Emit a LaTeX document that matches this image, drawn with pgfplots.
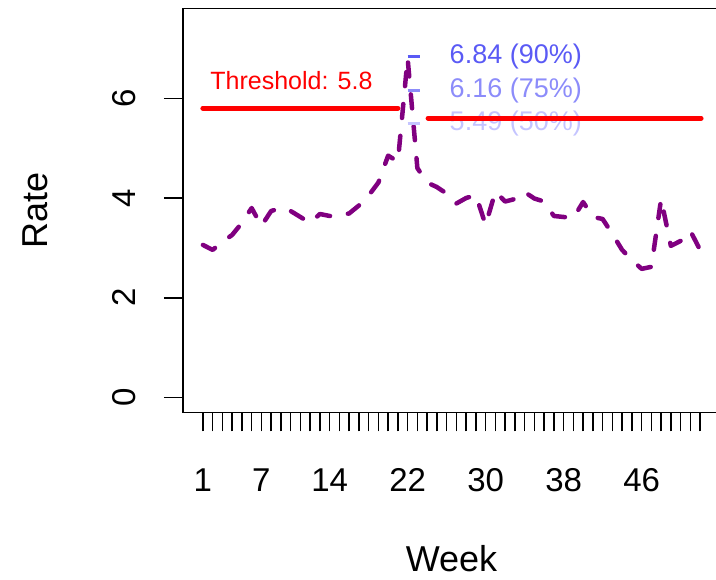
\documentclass[border=0pt]{standalone}
\usepackage{pgfplots}
\pgfplotsset{compat=1.18}
\usepackage{pgfplotstable}
\usepackage{fontspec}
\setmainfont{Liberation Sans}
\definecolor{rpurple}{HTML}{800080}
\definecolor{q90}{HTML}{5A5AF5}
\definecolor{q75}{HTML}{8C8CFA}
\definecolor{q50}{HTML}{C4C4FF}
\pgfplotstableread{
week rate
1 3.06
2 2.96
3 3.12
4 3.26
5 3.50
6 3.80
7 3.44
8 3.74
9 3.80
10 3.74
11 3.62
12 3.50
13 3.68
14 3.64
15 3.66
16 3.69
17 3.85
18 4.05
19 4.31
20 4.85
21 4.73
22 6.80
23 4.60
24 4.31
25 4.22
26 4.09
27 3.89
28 4.00
29 4.06
30 3.46
31 4.13
32 3.93
33 3.98
34 4.12
35 3.99
36 3.93
37 3.64
38 3.62
39 3.60
40 3.92
41 3.62
42 3.58
43 3.28
44 2.96
45 2.76
46 2.58
47 2.62
48 3.98
49 3.04
50 3.14
51 3.34
52 2.96
}\ratedata
\begin{document}
\begin{tikzpicture}
\useasboundingbox (-183pt,-167.5pt) rectangle (533pt,412.5pt);
\clip (-183pt,-167.5pt) rectangle (533pt,412.5pt);
\begin{axis}[
  at={(0pt,0pt)}, anchor=south west,
  scale only axis, width=537pt, height=404pt,
  xmin=-1.04, xmax=54.04, ymin=-0.3, ymax=7.8,
  axis line style={line width=1.5pt, black},
  tick pos=left, tick align=outside,
  major tick length=19pt,
  every tick/.style={line width=1.5pt, black},
  xtick={1,...,52},
  xticklabels={1,,,,,,7,,,,,,,14,,,,,,,,22,,,,,,,,30,,,,,,,,38,,,,,,,,46,,,,,,},
  ytick={0,2,4,6},
  yticklabels={0,2,4,6},
  xticklabel style={font=\fontsize{33}{33}\selectfont, inner sep=0pt, anchor=north},
  xticklabel shift=37pt,
  yticklabel style={font=\fontsize{33}{33}\selectfont, inner sep=0pt, rotate=90, anchor=south},
  yticklabel shift=28pt,
  xlabel={Week}, ylabel={Rate},
  xlabel style={font=\fontsize{36}{36}\selectfont, at={(axis description cs:0.5,-0.361)}, anchor=center, inner sep=0pt},
  ylabel style={font=\fontsize{36}{36}\selectfont, at={(axis description cs:-0.2756,0.5)}, anchor=center, inner sep=0pt},
]
\addplot[rpurple, line width=4.5pt, dash pattern=on 14pt off 18pt, line cap=round, line join=round] table[x=week, y=rate] {\ratedata};
\addplot[q90, line width=3.5pt] coordinates {(22.0,6.84) (23.3,6.84)};
\addplot[q75, line width=3.5pt] coordinates {(22.0,6.16) (23.3,6.16)};
\addplot[q50, line width=3.5pt] coordinates {(22.0,5.49) (23.3,5.49)};
\node[anchor=west, inner sep=0pt, text=q90, font=\fontsize{27}{27}\selectfont] at (axis cs:26.3,6.84) {6.84 (90\%)};
\node[anchor=west, inner sep=0pt, text=q75, font=\fontsize{27}{27}\selectfont] at (axis cs:26.3,6.16) {6.16 (75\%)};
\node[anchor=west, inner sep=0pt, text=q50, font=\fontsize{27}{27}\selectfont] at (axis cs:26.3,5.49) {5.49 (50\%)};
\addplot[red, line width=5pt, line cap=round] coordinates {(1,5.8) (21.0,5.8)};
\addplot[red, line width=5pt, line cap=round] coordinates {(24.1,5.6) (52.1,5.6)};
\node[anchor=west, inner sep=0pt, text=red, font=\fontsize{25}{25}\selectfont] at (axis cs:1.75,6.36) {Threshold: 5.8};
\end{axis}
\end{tikzpicture}
\end{document}
